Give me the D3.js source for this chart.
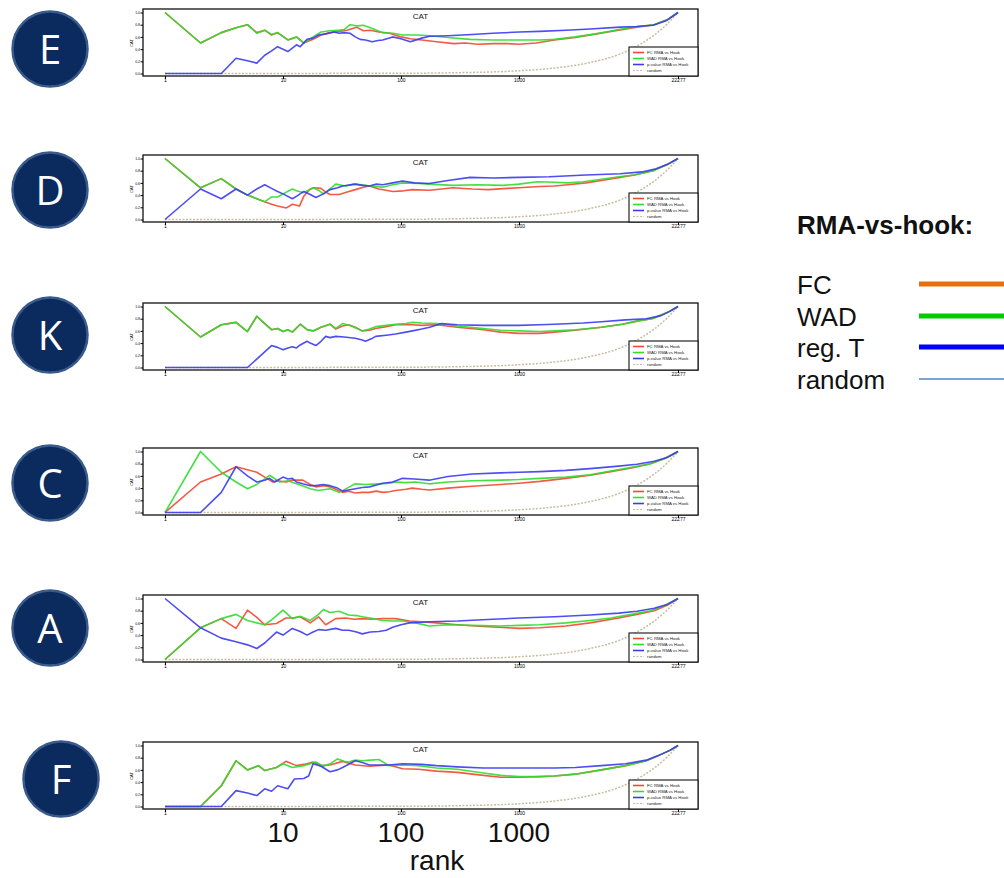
<!DOCTYPE html>
<html>
<head>
<meta charset="utf-8">
<script src="https://cdn.jsdelivr.net/npm/d3@7"></script>
<style>
  html, body { margin: 0; padding: 0; background: #fff; }
  svg { display: block; }
</style>
</head>
<body>
<svg id="chart" width="1004" height="878"></svg>
<script>
// ---- data: CAT curves (proportion of overlap vs. list size), one set per method ----
const X_TICKS = [1, 10, 100, 1000, 22277];
const Y_TICKS = [0, 0.2, 0.4, 0.6, 0.8, 1];
const BIG_X_LABELS = [10, 100, 1000];
const PANEL_LABELS = ["E", "D", "K", "C", "A", "F"];
const LEGEND_ITEMS = ["FC RMA vs Hook", "WAD RMA vs Hook", "p-value RMA vs Hook", "random"];
const KEY_TITLE = "RMA-vs-hook:";
const KEY_LABELS = ["FC", "WAD", "reg. T", "random"];

// expected overlap of two random lists
const RANDOM = [[1,0],[100,0.004],[300,0.013],[1000,0.045],[2000,0.09],[4000,0.18],[7000,0.31],[10000,0.45],[14000,0.63],[18000,0.81],[22277,1]];

const E_fc = [[1,1],[2,0.5],[3,0.67],[4,0.75],[5,0.8],[6,0.67],[7,0.71],[8,0.63],[9,0.67],[11,0.55],[13,0.6],[15,0.5],[18,0.56],[21,0.63],[25,0.67],[30,0.69],[35,0.71],[42,0.76],[48,0.7],[55,0.71],[65,0.68],[80,0.66],[100,0.6],[120,0.57],[150,0.55],[200,0.52],[280,0.49],[350,0.5],[450,0.48],[600,0.49],[800,0.49],[1000,0.48],[1400,0.5],[2000,0.55],[3000,0.59],[4500,0.65],[7000,0.71],[10000,0.76],[14000,0.8],[18000,0.88],[22277,1]];
const E_wad = [[1,1],[2,0.5],[3,0.67],[4,0.75],[5,0.8],[6,0.66],[7,0.71],[8,0.64],[9,0.67],[11,0.55],[13,0.6],[15,0.5],[18,0.6],[21,0.68],[25,0.7],[29,0.71],[33,0.72],[37,0.8],[43,0.78],[48,0.79],[55,0.75],[70,0.67],[85,0.66],[104,0.63],[140,0.63],[175,0.62],[250,0.59],[385,0.56],[600,0.55],[1000,0.55],[1500,0.55],[2000,0.56],[3000,0.6],[4500,0.65],[7000,0.72],[10000,0.77],[14000,0.8],[18000,0.88],[22277,1]];
const E_pval = [[1,0],[2,0],[3,0],[4,0.25],[5,0.21],[6,0.17],[7,0.3],[8,0.37],[9,0.44],[11,0.36],[13,0.47],[14,0.44],[16,0.56],[18,0.58],[20,0.63],[23,0.65],[27,0.68],[30,0.66],[33,0.67],[37,0.66],[41,0.6],[45,0.56],[50,0.55],[57,0.52],[64,0.54],[70,0.55],[85,0.6],[100,0.57],[120,0.52],[150,0.58],[175,0.61],[250,0.62],[400,0.64],[600,0.66],[1000,0.68],[1500,0.69],[2500,0.71],[4000,0.73],[7200,0.76],[10000,0.77],[13700,0.79],[17900,0.87],[22277,1]];

const D_fc = [[1,1],[2,0.52],[3,0.67],[4,0.5],[5,0.4],[6,0.34],[7,0.29],[8,0.25],[9,0.22],[10.7,0.19],[12,0.25],[13.8,0.22],[15,0.38],[17,0.5],[18.5,0.52],[21,0.51],[23,0.45],[25,0.41],[30,0.41],[35,0.45],[41,0.49],[48,0.53],[54,0.55],[65,0.5],[85,0.46],[105,0.47],[125,0.49],[175,0.48],[275,0.52],[400,0.5],[550,0.49],[800,0.51],[1000,0.52],[1500,0.54],[2000,0.55],[2600,0.57],[3700,0.6],[5000,0.64],[7200,0.69],[9500,0.73],[13700,0.8],[18000,0.9],[22277,1]];
const D_wad = [[1,1],[2,0.52],[3,0.67],[4,0.5],[5,0.4],[6,0.34],[7,0.29],[8,0.37],[9,0.37],[10,0.42],[12,0.5],[13,0.47],[15,0.44],[18,0.52],[20,0.48],[22,0.42],[25,0.5],[28,0.58],[34,0.55],[40,0.58],[47,0.57],[55,0.55],[70,0.53],[85,0.57],[103,0.6],[140,0.59],[175,0.58],[275,0.56],[450,0.57],[730,0.56],[1000,0.58],[1430,0.62],[2000,0.61],[2600,0.6],[3500,0.62],[5000,0.66],[7000,0.7],[9500,0.73],[13700,0.8],[18000,0.9],[22277,1]];
const D_pval = [[1,0],[2,0.5],[3,0.34],[4,0.5],[5,0.4],[6,0.5],[7,0.57],[8,0.51],[9,0.46],[10,0.42],[12,0.34],[13,0.38],[15,0.46],[17,0.41],[19,0.36],[22,0.42],[25,0.49],[29,0.52],[32,0.55],[41,0.58],[47,0.56],[54,0.55],[62,0.58],[70,0.57],[85,0.6],[103,0.63],[130,0.6],[173,0.59],[250,0.64],[385,0.69],[600,0.68],[1000,0.69],[1800,0.7],[3700,0.73],[7200,0.75],[11000,0.78],[14500,0.83],[18000,0.9],[22277,1]];

const K_fc = [[1,1],[2,0.5],[3,0.7],[4,0.74],[5,0.59],[6,0.84],[7,0.72],[8,0.62],[9,0.64],[10,0.59],[11,0.62],[12,0.58],[14,0.71],[16,0.62],[18,0.6],[21,0.66],[25,0.71],[28,0.63],[32,0.68],[36,0.7],[42,0.65],[47,0.6],[54,0.61],[61,0.64],[75,0.67],[90,0.7],[125,0.7],[150,0.69],[200,0.7],[300,0.66],[500,0.62],[700,0.58],[1000,0.56],[1500,0.56],[2000,0.58],[3000,0.61],[5000,0.66],[7500,0.71],[10000,0.76],[14000,0.81],[18000,0.9],[22277,1]];
const K_wad = [[1,1],[2,0.5],[3,0.7],[4,0.74],[5,0.59],[6,0.84],[7,0.72],[8,0.62],[9,0.64],[10,0.59],[11,0.62],[12,0.58],[14,0.71],[16,0.62],[18,0.6],[21,0.66],[25,0.71],[28,0.64],[32,0.72],[38,0.68],[47,0.6],[54,0.63],[61,0.67],[75,0.69],[90,0.71],[110,0.72],[125,0.74],[150,0.73],[200,0.72],[300,0.68],[500,0.64],[700,0.61],[1000,0.6],[1500,0.59],[2000,0.6],[3000,0.62],[5000,0.66],[7500,0.71],[10000,0.76],[14000,0.81],[18000,0.9],[22277,1]];
const K_pval = [[1,0],[5,0],[8,0.36],[9,0.33],[10,0.29],[11,0.32],[12,0.34],[13,0.32],[14,0.37],[16,0.43],[17,0.4],[19,0.36],[21,0.43],[23,0.51],[25,0.49],[28,0.51],[33,0.5],[41,0.48],[47,0.45],[50,0.43],[56,0.47],[61,0.51],[75,0.53],[90,0.55],[110,0.58],[125,0.6],[150,0.63],[175,0.66],[220,0.72],[300,0.7],[500,0.69],[1000,0.69],[1500,0.7],[2000,0.71],[3500,0.73],[5000,0.75],[8000,0.78],[12000,0.8],[16000,0.85],[19000,0.92],[22277,1]];

const C_fc = [[1,0],[2,0.5],[3,0.63],[4,0.75],[5,0.7],[6,0.66],[7,0.58],[8.2,0.5],[9,0.52],[10.6,0.5],[12,0.53],[14.7,0.53],[17,0.46],[19,0.42],[22,0.44],[25,0.42],[28,0.38],[32,0.33],[36,0.35],[41,0.32],[47,0.33],[54,0.33],[62,0.35],[70,0.33],[80,0.34],[90,0.36],[110,0.38],[125,0.4],[150,0.38],[175,0.37],[250,0.4],[400,0.43],[700,0.46],[1000,0.48],[1500,0.51],[2500,0.56],[4000,0.61],[6000,0.67],[9000,0.73],[13000,0.8],[17000,0.88],[22277,1]];
const C_wad = [[1,0],[2,1],[3,0.66],[4,0.5],[5,0.39],[6,0.46],[7,0.55],[7.7,0.61],[9.4,0.5],[11,0.52],[13,0.47],[15,0.43],[17,0.39],[20,0.36],[25,0.39],[30,0.33],[35,0.4],[41,0.47],[50,0.46],[65,0.47],[80,0.48],[90,0.5],[110,0.49],[133,0.5],[173,0.47],[250,0.5],[400,0.52],[700,0.53],[1000,0.54],[1500,0.56],[2500,0.58],[4000,0.62],[6000,0.68],[9000,0.74],[13000,0.8],[17000,0.88],[22277,1]];
const C_pval = [[1,0],[2,0],[3,0.33],[4,0.75],[5,0.6],[6,0.5],[7,0.53],[7.7,0.56],[8.5,0.5],[10,0.58],[11,0.55],[12,0.56],[13,0.5],[14.7,0.47],[17,0.44],[19,0.44],[22,0.46],[25,0.44],[29,0.4],[32,0.35],[36,0.37],[41,0.39],[47,0.41],[54,0.42],[62,0.45],[70,0.48],[85,0.5],[103,0.56],[130,0.55],[173,0.53],[250,0.59],[400,0.63],[700,0.65],[1000,0.66],[1500,0.67],[2500,0.69],[4000,0.72],[7000,0.76],[10000,0.79],[14000,0.84],[18000,0.9],[22277,1]];

const A_fc = [[1,0],[2,0.52],[3,0.67],[4,0.51],[5,0.81],[6,0.69],[7,0.57],[8.8,0.59],[10.6,0.68],[12,0.68],[14,0.7],[17,0.6],[20,0.7],[23,0.57],[28,0.67],[34,0.68],[40,0.66],[47,0.67],[55,0.66],[70,0.67],[90,0.67],[118,0.63],[150,0.62],[200,0.6],[300,0.57],[500,0.54],[800,0.52],[1000,0.51],[1500,0.52],[2500,0.55],[4000,0.6],[7000,0.68],[10000,0.74],[14000,0.8],[18000,0.89],[22277,1]];
const A_wad = [[1,0],[2,0.52],[3,0.67],[4,0.74],[5,0.64],[6,0.6],[7,0.57],[8,0.65],[10,0.81],[12,0.67],[14,0.71],[17,0.64],[20,0.74],[22,0.82],[25,0.77],[30,0.79],[36,0.73],[42,0.72],[47,0.7],[55,0.68],[70,0.64],[85,0.63],[103,0.63],[133,0.6],[173,0.55],[250,0.57],[400,0.56],[700,0.55],[1000,0.56],[1500,0.57],[2500,0.6],[4000,0.64],[6000,0.68],[9000,0.74],[13000,0.8],[17000,0.88],[22277,1]];
const A_pval = [[1,1],[2,0.52],[3,0.35],[4,0.29],[5,0.24],[6,0.18],[7,0.27],[8.8,0.45],[10,0.4],[12,0.51],[14,0.46],[16,0.4],[18,0.45],[20,0.49],[23,0.48],[28,0.51],[32,0.48],[36,0.48],[42,0.45],[47,0.42],[55,0.45],[65,0.46],[75,0.48],[85,0.53],[100,0.57],[118,0.6],[150,0.61],[175,0.62],[300,0.63],[600,0.66],[1000,0.68],[2000,0.7],[4000,0.73],[7000,0.76],[10000,0.79],[14000,0.84],[18000,0.9],[22277,1]];

const F_fc = [[1,0],[2,0],[3,0.34],[4,0.75],[5,0.6],[6.2,0.67],[7,0.59],[8.8,0.64],[10.6,0.74],[13,0.67],[15,0.69],[18,0.73],[21,0.67],[25,0.68],[32,0.74],[41,0.68],[54,0.66],[79,0.68],[103,0.62],[140,0.61],[200,0.58],[300,0.56],[500,0.51],[700,0.48],[1000,0.48],[1500,0.49],[2000,0.5],[3000,0.53],[5000,0.6],[8000,0.67],[12000,0.75],[15000,0.83],[19000,0.92],[22277,1]];
const F_wad = [[1,0],[2,0],[3,0.34],[4,0.75],[5,0.6],[6.2,0.67],[7,0.59],[8.8,0.64],[10,0.7],[12,0.64],[15,0.67],[19,0.73],[22,0.66],[25,0.7],[29,0.78],[33,0.74],[36,0.73],[41,0.76],[47,0.75],[55,0.76],[65,0.77],[79,0.67],[103,0.68],[140,0.67],[200,0.63],[300,0.61],[500,0.55],[700,0.51],[1000,0.49],[1500,0.49],[2000,0.5],[3000,0.53],[5000,0.6],[8000,0.67],[12000,0.75],[15000,0.83],[19000,0.92],[22277,1]];
const F_pval = [[1,0],[3,0],[4,0.26],[5,0.22],[6,0.18],[7,0.29],[8,0.25],[9,0.34],[11,0.29],[12.5,0.45],[15,0.46],[16.5,0.5],[18,0.7],[21,0.66],[25,0.57],[29,0.6],[32,0.64],[41,0.75],[47,0.72],[54,0.68],[79,0.68],[103,0.7],[150,0.69],[200,0.67],[300,0.65],[500,0.63],[1000,0.63],[2000,0.63],[3000,0.64],[5000,0.67],[8000,0.7],[12000,0.76],[15000,0.83],[19000,0.92],[22277,1]];

const PANEL_SERIES = {
  E: [E_fc, E_wad, E_pval],
  D: [D_fc, D_wad, D_pval],
  K: [K_fc, K_wad, K_pval],
  C: [C_fc, C_wad, C_pval],
  A: [A_fc, A_wad, A_pval],
  F: [F_fc, F_wad, F_pval]
};

// ---- styling / layout ----
const LINE_COLORS = ["#f4472f", "#2fdc2f", "#3a3af2"];
const RANDOM_COLOR = "#c9bd9f";
const KEY_COLORS = ["#e8700e", "#00cc00", "#0000ff", "#7fa2d4"];
const KEY_WIDTHS = [5, 5, 5, 2];
const PANEL_TOPS = [9, 155, 303, 448, 595, 742];
const BADGES = [[50, 49], [50, 190], [50, 335], [50, 483], [50, 628], [61, 779]];
const BOX_L = 143, BOX_R = 698, BOX_H = 67;

const svg = d3.select("#chart");
svg.append("rect").attr("width", 1004).attr("height", 878).attr("fill", "#fff");

const x = d3.scaleLog().domain([1, 22277]).range([165, 678]);

PANEL_LABELS.forEach((lab, i) => {
  const top = PANEL_TOPS[i];
  const bottom = top + BOX_H;
  const y = d3.scaleLinear().domain([0, 1]).range([top + 64.5, top + 3.5]);
  const g = svg.append("g");

  const line = d3.line().x(d => x(d[0])).y(d => y(d[1]));
  const smooth = d3.line().x(d => x(d[0])).y(d => y(d[1])).curve(d3.curveMonotoneX);

  // random expectation (dashed)
  g.append("path").datum(RANDOM).attr("d", smooth)
    .attr("fill", "none").attr("stroke", RANDOM_COLOR)
    .attr("stroke-width", 1.5).attr("stroke-dasharray", "2,1.5");

  // FC, WAD, p-value
  PANEL_SERIES[lab].forEach((s, k) => {
    g.append("path").datum(s).attr("d", line)
      .attr("fill", "none").attr("stroke", LINE_COLORS[k])
      .attr("stroke-width", 1.6).attr("stroke-linejoin", "round")
      .attr("opacity", 0.9);
  });

  // frame
  g.append("rect").attr("x", BOX_L).attr("y", top)
    .attr("width", BOX_R - BOX_L).attr("height", BOX_H)
    .attr("fill", "none").attr("stroke", "#111").attr("stroke-width", 1.3);

  // axes
  const ax = g.append("g").attr("transform", `translate(0,${bottom})`)
    .call(d3.axisBottom(x).tickValues(X_TICKS).tickSize(3).tickFormat(d3.format("d")));
  ax.select(".domain").remove();
  ax.selectAll("text").attr("font-size", 5).attr("font-family", "Liberation Sans, Arial").attr("dy", "0.55em").attr("y", 3.5);

  const ay = g.append("g").attr("transform", `translate(${BOX_L},0)`)
    .call(d3.axisLeft(y).tickValues(Y_TICKS).tickSize(2.5).tickFormat(d3.format(".1f")));
  ay.select(".domain").remove();
  ay.selectAll("text").attr("font-size", 3.5).attr("font-family", "Liberation Sans, Arial").attr("x", -3);

  g.append("text").attr("transform", `translate(133,${(y(0) + y(1)) / 2}) rotate(-90)`)
    .attr("text-anchor", "middle").attr("font-size", 4)
    .attr("font-family", "Liberation Sans, Arial").text("CAT");

  // title
  g.append("text").attr("x", (BOX_L + BOX_R) / 2).attr("y", top + 9.5)
    .attr("text-anchor", "middle").attr("font-size", 8)
    .attr("font-family", "Liberation Sans, Arial").attr("fill", "#111").text("CAT");

  // inner legend
  const lg = g.append("g");
  const lgTop = bottom - 29;
  lg.append("rect").attr("x", 629).attr("y", lgTop).attr("width", BOX_R - 629).attr("height", 29)
    .attr("fill", "#fff").attr("stroke", "#111").attr("stroke-width", 1.1);
  LEGEND_ITEMS.forEach((t, k) => {
    const yy = lgTop + 5.5 + k * 6;
    lg.append("line").attr("x1", 633).attr("x2", 644).attr("y1", yy).attr("y2", yy)
      .attr("stroke", k < 3 ? LINE_COLORS[k] : RANDOM_COLOR)
      .attr("stroke-width", k < 3 ? 1.6 : 1.2)
      .attr("stroke-dasharray", k < 3 ? null : "2,1.5");
    lg.append("text").attr("x", 647).attr("y", yy + 1.5)
      .attr("font-size", 4.3).attr("font-family", "Liberation Sans, Arial").attr("fill", "#222").text(t);
  });

  // panel badge
  const [cx, cy] = BADGES[i];
  svg.append("circle").attr("cx", cx).attr("cy", cy).attr("r", 37.5)
    .attr("fill", "#0b2a5e").attr("stroke", "#3a5a8c").attr("stroke-width", 2.5);
  svg.append("text").attr("x", cx).attr("y", cy + 14.5)
    .attr("text-anchor", "middle").attr("font-size", 40)
    .attr("font-family", "Open Sans, Liberation Sans, Arial").attr("fill", "#fff").text(lab);
});

// large rank labels under the last panel
BIG_X_LABELS.forEach(v => {
  svg.append("text").attr("x", x(v)).attr("y", 842)
    .attr("text-anchor", "middle").attr("font-size", 28)
    .attr("font-family", "Liberation Sans, Arial").attr("fill", "#111").text(v);
});
svg.append("text").attr("x", 437).attr("y", 870)
  .attr("text-anchor", "middle").attr("font-size", 28)
  .attr("font-family", "Liberation Sans, Arial").attr("fill", "#111").text("rank");

// method key on the right
svg.append("text").attr("x", 797).attr("y", 234)
  .attr("font-size", 26).attr("font-weight", "bold")
  .attr("font-family", "Liberation Sans, Arial").attr("fill", "#111").text(KEY_TITLE);
const KEY_Y = [284, 316, 347, 379];
KEY_LABELS.forEach((t, k) => {
  svg.append("text").attr("x", 797).attr("y", KEY_Y[k] + 10)
    .attr("font-size", 26).attr("font-family", "Liberation Sans, Arial").attr("fill", "#111").text(t);
  svg.append("line").attr("x1", 919).attr("x2", 1004).attr("y1", KEY_Y[k]).attr("y2", KEY_Y[k])
    .attr("stroke", KEY_COLORS[k]).attr("stroke-width", KEY_WIDTHS[k]);
});
</script>
</body>
</html>
